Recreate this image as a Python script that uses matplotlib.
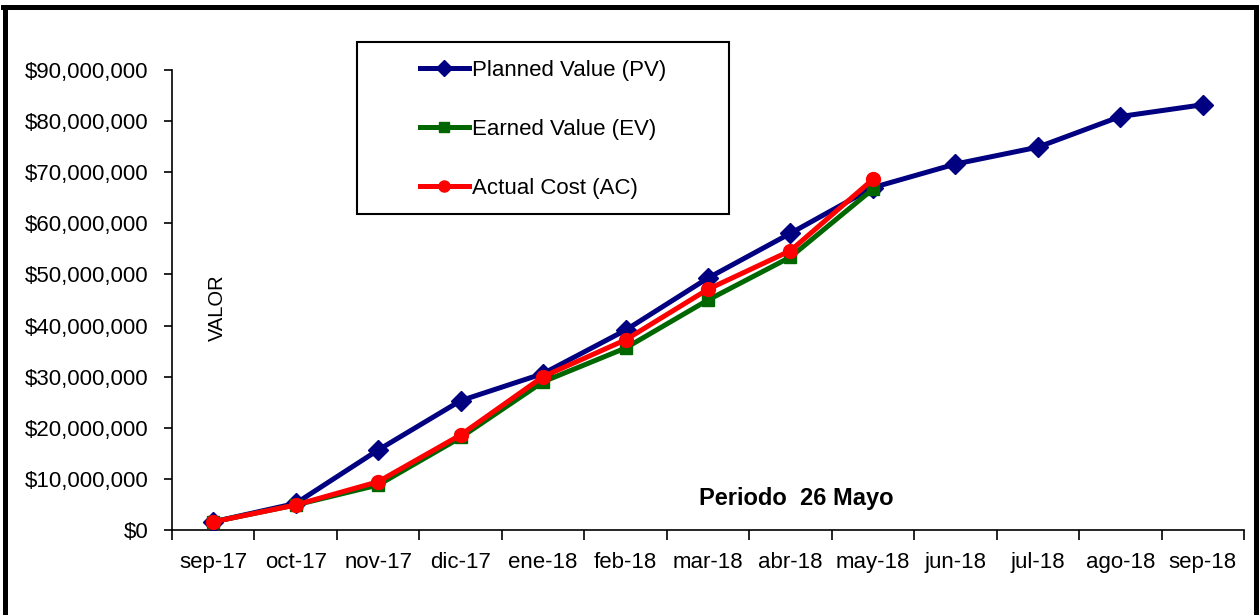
import matplotlib
matplotlib.use("Agg")
import matplotlib.pyplot as plt
from matplotlib.patches import Rectangle
from matplotlib.lines import Line2D
from matplotlib.ticker import FuncFormatter, FixedLocator

categories = ["sep-17", "oct-17", "nov-17", "dic-17", "ene-18", "feb-18", "mar-18",
              "abr-18", "may-18", "jun-18", "jul-18", "ago-18", "sep-18"]
pv = [1.6e6, 5.2e6, 15.65e6, 25.3e6, 30.6e6, 39.1e6, 49.3e6, 58.05e6, 67.0e6,
      71.6e6, 74.9e6, 80.9e6, 83.2e6]
ev = [1.6e6, 4.9e6, 8.8e6, 18.1e6, 29.0e6, 35.6e6, 45.0e6, 53.4e6, 66.7e6]
ac = [1.6e6, 4.9e6, 9.45e6, 18.6e6, 30.0e6, 37.2e6, 47.1e6, 54.65e6, 68.6e6]
labels = ["Planned Value (PV)", "Earned Value (EV)", "Actual Cost (AC)"]

plt.rcParams['font.family'] = ['Liberation Sans', 'DejaVu Sans']

W, H = 1259, 615
fig = plt.figure(figsize=(W / 100, H / 100), dpi=100)

def fx(px):
    return px / W

def fy(py):
    return 1 - py / H

ax = fig.add_axes([fx(172), fy(530), fx(1244) - fx(172), fy(70) - fy(530)])

x = list(range(len(categories)))
l1, = ax.plot(x[:len(pv)], pv, color="#000080", lw=3.6, marker="D", ms=10, zorder=3)
l2, = ax.plot(x[:len(ev)], ev, color="#006600", lw=3.6, marker="s", ms=9, zorder=4)
l3, = ax.plot(x[:len(ac)], ac, color="#FF0000", lw=3.6, marker="o", ms=10, zorder=5)

ax.set_xlim(-0.5, len(categories) - 0.5)
ax.set_ylim(0, 90e6)
ax.set_yticks([i * 10e6 for i in range(10)])
ax.yaxis.set_major_formatter(FuncFormatter(lambda v, p: "${:,.0f}".format(v)))

ax.xaxis.set_major_locator(FixedLocator([i - 0.5 for i in range(len(categories) + 1)]))
ax.xaxis.set_minor_locator(FixedLocator(x))
ax.set_xticklabels([], minor=False)
ax.set_xticklabels(categories, minor=True)
ax.tick_params(axis='x', which='major', length=7, width=1.2, direction='out')
ax.tick_params(axis='x', which='minor', length=0, pad=16, labelsize=16)
ax.tick_params(axis='y', length=6, width=1.2, direction='out', pad=11, labelsize=16)

for s in ["top", "right"]:
    ax.spines[s].set_visible(False)
for s in ["left", "bottom"]:
    ax.spines[s].set_linewidth(1.2)

ax.text(fx(217), fy(308), "VALOR", transform=fig.transFigure, rotation=90,
        ha="center", va="center", fontsize=14.5)
ax.text(fx(796), fy(499), "Periodo  26 Mayo", transform=fig.transFigure,
        ha="center", va="center", fontsize=17, fontweight="bold")

# legend box
fig.patches.append(Rectangle((fx(357), fy(214)), fx(729) - fx(357), fy(42) - fy(214),
                             transform=fig.transFigure, fill=True, facecolor="white",
                             edgecolor="black", lw=1.5, zorder=10))
leg = fig.legend([l1, l2, l3], labels, loc="center",
                 bbox_to_anchor=(fx(543), fy(129.5)), frameon=False, fontsize=16,
                 handlelength=2.2, handletextpad=0.15, labelspacing=1.72, borderpad=0,
                 markerscale=0.8)
leg.set_zorder(11)

# outer frame
for xs, ys in [([fx(5), fx(5)], [0, fy(7)]), ([fx(3), fx(1257)], [fy(7), fy(7)]),
               ([fx(1256), fx(1256)], [0, fy(7)])]:
    fig.add_artist(Line2D(xs, ys, color="black", lw=3.6, transform=fig.transFigure))

fig.savefig("out.png", dpi=100)
